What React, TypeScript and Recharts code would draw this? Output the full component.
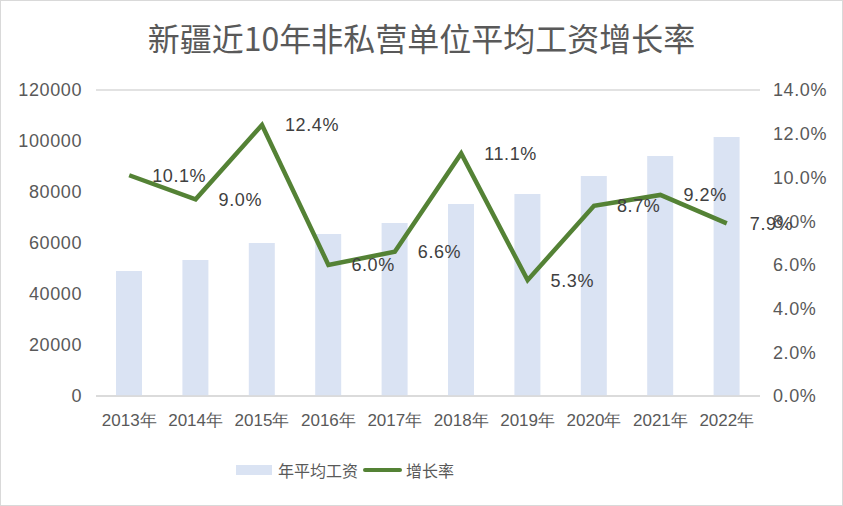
import { Bar, ComposedChart, LabelList, Legend, Line, CartesianGrid, XAxis, YAxis } from 'recharts';

const years = ['2013年', '2014年', '2015年', '2016年', '2017年', '2018年', '2019年', '2020年', '2021年', '2022年'];
const wages = [49000, 53300, 60000, 63500, 67800, 75300, 79200, 86300, 94100, 101600];
const rates = [10.1, 9.0, 12.4, 6.0, 6.6, 11.1, 5.3, 8.7, 9.2, 7.9];
const wageTicks = [0, 20000, 40000, 60000, 80000, 100000, 120000];
const rateTicks = [0, 2, 4, 6, 8, 10, 12, 14];

const data = years.map((year, i) => ({ year, wage: wages[i], rate: rates[i] }));

const tickFont = { fontSize: 18, fill: '#595959', fontFamily: 'Liberation Sans', letterSpacing: 0.6 };

const RateLabel = (props: any) => {
  const { x, y, value } = props;
  return (
    <text x={x + 23} y={y} dy="0.36em" fontSize={18} fill="#404040" fontFamily="Liberation Sans" letterSpacing={0.6}>
      {`${Number(value).toFixed(1)}%`}
    </text>
  );
};

const LegendBox = () => (
  <div style={{ height: 24, display: 'flex', alignItems: 'center', paddingLeft: 235, fontFamily: 'Noto Sans CJK SC', fontSize: 16, color: '#595959' }}>
    <span style={{ display: 'inline-block', width: 36, height: 10, background: '#DAE3F3', marginRight: 6 }} />
    <span>年平均工资</span>
    <span style={{ display: 'inline-block', width: 39, height: 4, background: '#548235', borderRadius: 2, margin: '0 4px 0 5px' }} />
    <span>增长率</span>
  </div>
);

export default function App() {
  return (
    <div style={{ position: 'absolute', left: 0, top: 0, width: 843, height: 506, border: '1px solid #d9d9d9', boxSizing: 'border-box', background: '#fff' }}>
      <div style={{ position: 'absolute', left: 0, top: 14, width: 841, textAlign: 'center', fontFamily: 'Noto Sans CJK SC', fontSize: 32, color: '#595959', lineHeight: '44px' }}>
        新疆近10年非私营单位平均工资增长率
      </div>
      <ComposedChart width={841} height={504} data={data} margin={{ top: 89, right: 0, bottom: 55, left: 0 }}>
        <CartesianGrid vertical={false} stroke="#d9d9d9" strokeWidth={1.5} />
        <XAxis dataKey="year" tickLine={false} axisLine={{ stroke: '#d9d9d9', strokeWidth: 1.5 }} height={30} tickMargin={12}
          tick={{ fontSize: 17, fill: '#595959', fontFamily: 'Liberation Sans' }} interval={0} />
        <YAxis yAxisId="left" width={95} domain={[0, 120000]} ticks={wageTicks} tickLine={false} axisLine={false} tickMargin={8} tick={tickFont} />
        <YAxis yAxisId="right" orientation="right" width={82} domain={[0, 14]} ticks={rateTicks} tickLine={false} axisLine={false} tickMargin={7}
          tick={tickFont} tickFormatter={(v) => `${Number(v).toFixed(1)}%`} />
        <Bar yAxisId="left" dataKey="wage" name="年平均工资" fill="#DAE3F3" barSize={26} isAnimationActive={false} />
        <Line yAxisId="right" dataKey="rate" name="增长率" stroke="#548235" strokeWidth={4.5} dot={false} isAnimationActive={false}>
          <LabelList dataKey="rate" content={RateLabel} />
        </Line>
        <Legend content={LegendBox} wrapperStyle={{ position: 'absolute', top: 457, left: 0, width: 841, height: 24 }} />
      </ComposedChart>
    </div>
  );
}
